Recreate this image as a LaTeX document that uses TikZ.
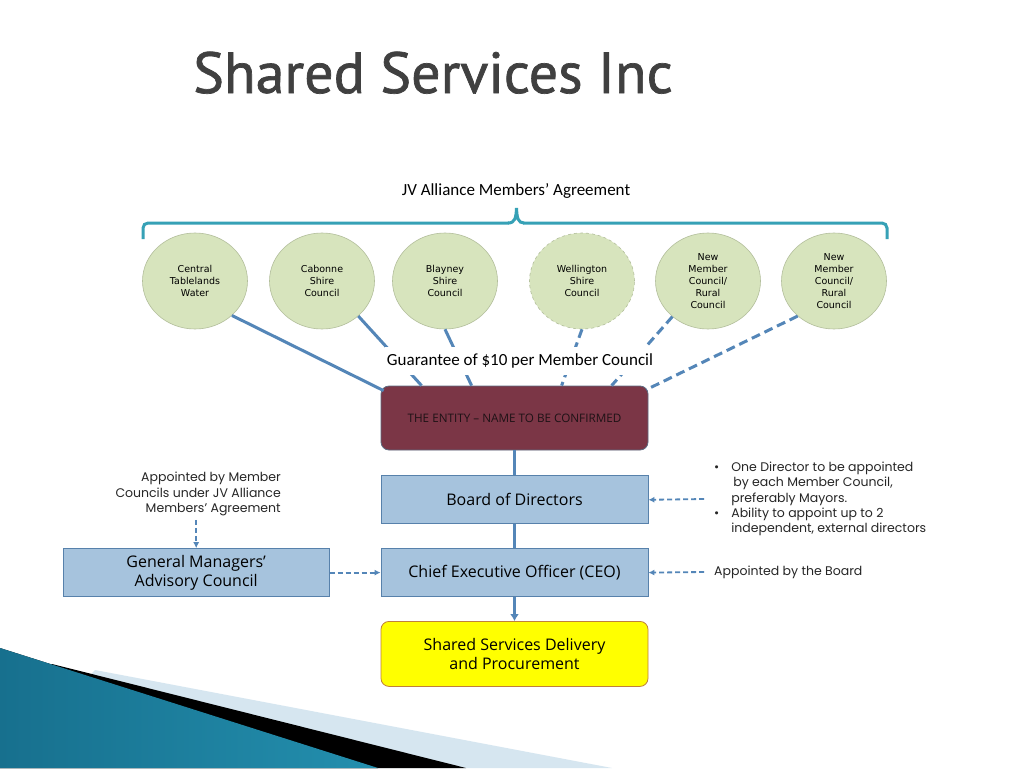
\documentclass[tikz,border=0pt]{standalone}
\usepackage{fontspec}
\setmainfont{Open Sans}
\newfontfamily\calfont{Carlito}
\newfontfamily\verfont{DejaVu Sans}
\newfontfamily\gothfont{Poppins}
\newfontfamily\titlefont[FakeBold=1.2]{PT Sans}
\usetikzlibrary{shapes,arrows,arrows.meta,positioning,backgrounds}

\definecolor{memberfill}{HTML}{D7E4BD}
\definecolor{memberline}{HTML}{B3BF9C}
\definecolor{boxfill}{HTML}{A6C3DD}
\definecolor{boxline}{HTML}{5781AB}
\definecolor{entityfill}{HTML}{7B3646}
\definecolor{entityline}{HTML}{5D6B80}
\definecolor{entitytext}{HTML}{1E1216}
\definecolor{yellowfill}{HTML}{FFFF00}
\definecolor{yellowline}{HTML}{C0803A}
\definecolor{linkblue}{HTML}{5486B8}
\definecolor{bracecol}{HTML}{36A1B6}
\definecolor{titlegray}{HTML}{404040}
\definecolor{notegray}{HTML}{262626}
\definecolor{tealdark}{HTML}{17708E}
\definecolor{teallight}{HTML}{4FB0D2}
\definecolor{tealright}{HTML}{238FAE}
\definecolor{paleblue}{HTML}{D6E6F0}

\tikzset{
  member/.style={ellipse, draw=memberline, fill=memberfill, line width=0.6pt,
    minimum width=105pt, minimum height=96pt, inner sep=0pt, align=center,
    font=\verfont\fontsize{9.5}{12}\selectfont},
  unitbox/.style={rectangle, draw=boxline, fill=boxfill, line width=0.8pt,
    minimum width=267pt, minimum height=48pt, align=center,
    font=\fontsize{16}{19.5}\selectfont},
  link/.style={draw=linkblue, line width=3pt},
  dashedlink/.style={link, dash pattern=on 9pt off 5pt},
  notearrow/.style={draw=linkblue, line width=1.8pt, dash pattern=on 5pt off 3pt,
    -{Latex[length=6pt,width=6pt]}},
  notetext/.style={font=\gothfont\fontsize{12.5}{15.3}\selectfont, text=notegray, inner sep=0pt}
}

\begin{document}
\begin{tikzpicture}[x=1pt,y=-1pt]
  \useasboundingbox (0,0) rectangle (1024,768);
  \fill[white] (0,0) rectangle (1024,768);

  % bottom left swoosh
  \fill[paleblue] (95,670) -- (612,768) -- (0,768) -- cycle;
  \fill[black] (52,664) -- (466,768) -- (0,768) -- cycle;
  \fill[left color=tealdark, middle color=teallight, right color=tealright]
    (0,648) -- (378,768) -- (0,768) -- cycle;

  % title
  \node[anchor=base west, font=\titlefont\fontsize{58}{58}\selectfont,
    text=titlegray, inner sep=0pt] (title) at (193,93) {Shared Services Inc};

  % agreement brace
  \node[font=\calfont\fontsize{17}{17}\selectfont] (jv) at (516,191)
    {JV Alliance Members’ Agreement};
  \draw[bracecol, line width=3pt, rounded corners=5pt]
    (143,239) -- (143,223) -- (509,223);
  \draw[bracecol, line width=3pt, rounded corners=5pt]
    (523,223) -- (887,223) -- (887,239);
  \draw[bracecol, line width=3pt]
    (508,223) .. controls (515,223) and (516,218) .. (516.5,208)
    .. controls (517,218) and (518,223) .. (524,223);

  % member councils
  \node[member] (ctw) at (195,281) {Central\\Tablelands\\Water};
  \node[member] (cabonne) at (322,281) {Cabonne\\Shire\\Council};
  \node[member] (blayney) at (445,281) {Blayney\\Shire\\Council};
  \node[member, dashed] (wellington) at (582,281) {Wellington\\Shire\\Council};
  \node[member] (newa) at (708,281) {New\\Member\\Council/\\Rural\\Council};
  \node[member] (newb) at (834,281) {New\\Member\\Council/\\Rural\\Council};

  % entity and structure
  \node[unitbox, draw=entityline, fill=entityfill, rounded corners=8pt,
    minimum height=64pt, text=entitytext, font=\fontsize{11.7}{13}\selectfont]
    (entity) at (514.5,418) {THE ENTITY – NAME TO BE CONFIRMED};
  \node[unitbox, below=25pt of entity] (board) {Board of Directors};
  \node[unitbox, below=24pt of board] (ceo) {Chief Executive Officer (CEO)};
  \node[unitbox, below=24pt of ceo, fill=yellowfill, draw=yellowline,
    rounded corners=8pt, minimum height=65pt] (shared)
    {Shared Services Delivery\\and Procurement};
  \node[unitbox, left=51pt of ceo, minimum width=266pt] (gm)
    {General Managers’\\Advisory Council};

  % guarantee links
  \draw[link] (ctw.-43) -- ([xshift=3pt,yshift=-5pt]entity.north west);
  \draw[link] (cabonne.-44) -- ([xshift=41pt]entity.north west);
  \draw[link] (blayney.-90) -- ([xshift=91pt]entity.north west);
  \draw[dashedlink] (wellington.-90) -- ([xshift=181pt]entity.north west);
  \draw[dashedlink] (newa.-135) -- ([xshift=231pt]entity.north west);
  \draw[dashedlink] (newb.-136) -- ([xshift=-2pt,yshift=-4pt]entity.north east);
  \node[font=\calfont\fontsize{17}{17}\selectfont, fill=white,
    inner xsep=2pt, inner ysep=7pt] (guar) at (520,361)
    {Guarantee of \$10 per Member Council};

  \draw[link] (entity) -- (board);
  \draw[link] (board) -- (ceo);
  \draw[link, -{Latex[length=7pt,width=9pt]}] (ceo) -- (shared);

  % notes
  \node[notetext, anchor=east, align=right] (gmnote) at (281,494)
    {Appointed by Member\\Councils under JV Alliance\\Members’ Agreement};
  \draw[notearrow] ([yshift=-4pt]gm.north |- gmnote.south) -- (gm.north);
  \draw[notearrow] (gm) -- (ceo);

  \node[notetext, anchor=west] (boardnote) at (714,499)
    {\begin{tabular}{@{}l@{\hspace{12pt}}l@{}}
      \textbullet & One Director to be appointed\\
       & \hspace{2pt}by each Member Council,\\
       & preferably Mayors.\\
      \textbullet & Ability to appoint up to 2\\
       & independent, external directors
    \end{tabular}};
  \draw[notearrow] ([xshift=-10pt]boardnote.west) -- (board.east);

  \node[notetext, anchor=west] (ceonote) at (714,572) {Appointed by the Board};
  \draw[notearrow] ([xshift=-10pt]ceonote.west) -- (ceo.east);
\end{tikzpicture}
\end{document}
